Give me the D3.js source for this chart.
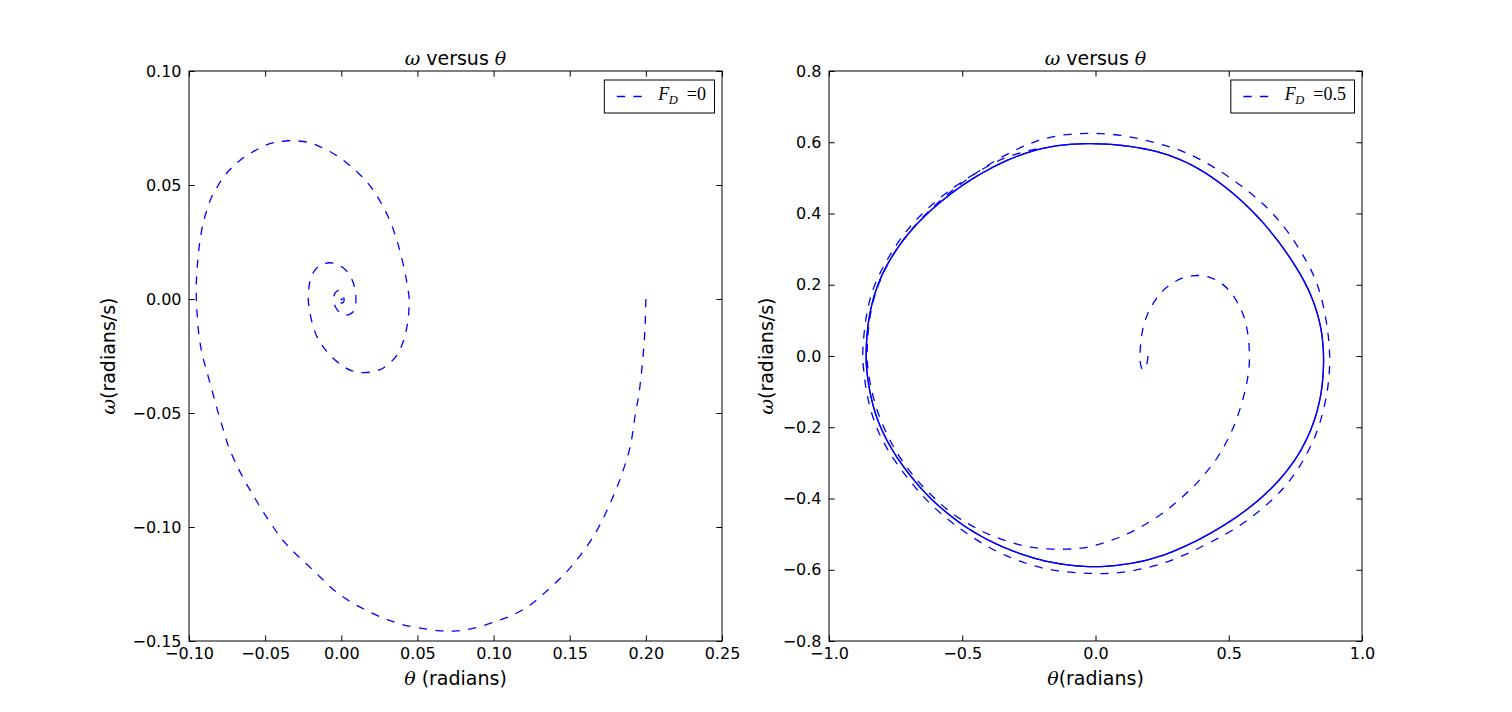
<!DOCTYPE html>
<html><head><meta charset="utf-8">
<script src="https://cdn.jsdelivr.net/npm/d3@7"></script>
<style>body{margin:0;background:#fff} svg{display:block}</style>
</head><body>
<svg id="c" width="1512" height="712"></svg>
<script>
// ---------- data ----------
const leftXTicks = [-0.10, -0.05, 0.00, 0.05, 0.10, 0.15, 0.20, 0.25];
const leftYTicks = [-0.15, -0.10, -0.05, 0.00, 0.05, 0.10];
const rightXTicks = [-1.0, -0.5, 0.0, 0.5, 1.0];
const rightYTicks = [-0.8, -0.6, -0.4, -0.2, 0.0, 0.2, 0.4, 0.6, 0.8];

const titleWord = "versus";
const leftLegendValue = "0";
const rightLegendValue = "0.5";

// F_D = 0 : damped spiral [theta, omega]
const leftSpiral = [
 [0.200,0.000],[0.1996,-0.010],[0.1985,-0.0224],[0.1955,-0.0414],[0.1932,-0.0501],[0.1897,-0.0648],
 [0.1844,-0.0765],[0.1794,-0.0852],[0.1725,-0.0955],[0.1655,-0.1042],[0.1563,-0.1130],[0.1471,-0.1203],
 [0.1356,-0.1276],[0.1241,-0.1342],[0.1126,-0.1386],[0.1011,-0.1415],[0.0872,-0.1444],[0.0757,-0.1456],
 [0.0665,-0.1456],[0.0550,-0.1447],[0.0412,-0.1430],[0.0297,-0.1405],[0.0181,-0.1371],[0.0066,-0.1330],
 [-0.0049,-0.1276],[-0.0141,-0.1218],[-0.0233,-0.1159],[-0.0325,-0.1101],[-0.0394,-0.1050],[-0.0463,-0.0984],
 [-0.0521,-0.0925],[-0.0579,-0.0860],[-0.0625,-0.0808],[-0.0682,-0.0735],[-0.0740,-0.0648],[-0.0774,-0.0575],
 [-0.0820,-0.0472],[-0.0855,-0.0385],[-0.0889,-0.0304],[-0.0915,-0.0238],[-0.0936,-0.0151],[-0.0947,-0.0063],
 [-0.0952,0.0000],[-0.0952,0.0069],[-0.0942,0.0171],[-0.0929,0.0251],[-0.0912,0.0317],[-0.0889,0.0376],
 [-0.0855,0.0442],[-0.0820,0.0485],[-0.0774,0.0534],[-0.0717,0.0577],[-0.0648,0.0617],[-0.0579,0.0646],
 [-0.0509,0.0671],[-0.0440,0.0686],[-0.0348,0.0694],[-0.0279,0.0693],[-0.0210,0.0686],[-0.0141,0.0668],
 [-0.0072,0.0646],[-0.0003,0.0617],[0.0066,0.0580],[0.0135,0.0537],[0.0193,0.0493],[0.0251,0.0434],
 [0.0297,0.0376],[0.0343,0.0303],[0.0377,0.0230],[0.0405,0.0156],[0.0428,0.0083],[0.0442,0.0025],
 [0.0446,0.0000],[0.0444,-0.0048],[0.0435,-0.0107],[0.0419,-0.0158],[0.0396,-0.0206],[0.0366,-0.0246],
 [0.0320,-0.0280],[0.0270,-0.0305],[0.0228,-0.0316],[0.0147,-0.0323],[0.0066,-0.0314],[-0.0014,-0.0282],
 [-0.0083,-0.0240],[-0.0125,-0.0205],[-0.0160,-0.0165],[-0.0185,-0.0120],[-0.0203,-0.0070],[-0.0213,-0.0030],
 [-0.0217,0.0000],[-0.0214,0.0040],[-0.0205,0.0080],[-0.0187,0.0113],[-0.0152,0.0142],[-0.0118,0.0154],
 [-0.0075,0.0159],[-0.0035,0.0154],[0.0010,0.0138],[0.0050,0.0110],[0.0078,0.0072],[0.0093,0.0030],
 [0.0096,0.0000],[0.0092,-0.0034],[0.0078,-0.0056],[0.0055,-0.0067],[0.0025,-0.0070],[-0.0005,-0.0062],
 [-0.0030,-0.0044],[-0.0047,-0.0020],[-0.0050,0.0005],[-0.0042,0.0025],[-0.0025,0.0036],[-0.0008,0.0034],
 [0.0008,0.0022],[0.0017,0.0005],[0.0017,-0.0010],[0.0008,-0.0017],[-0.0004,-0.0016],[-0.0012,-0.0007],
 [-0.0012,0.0004],[-0.0005,0.0009],[0.0003,0.0006],[0.0005,-0.0001],[0.0000,-0.0003],[-0.0002,0.0000]
];

// F_D = 0.5 : transient from the start to the ring
const rightTransient = [
 [0.197,0.000],[0.195,-0.015],[0.190,-0.030],[0.182,-0.040],[0.174,-0.038],[0.168,-0.022],[0.166,0.000],
 [0.171,0.054],[0.184,0.101],[0.211,0.143],[0.250,0.185],[0.296,0.209],[0.336,0.223],[0.382,0.2275],
 [0.428,0.223],[0.474,0.206],[0.513,0.176],[0.546,0.134],[0.566,0.092],[0.575,0.045],[0.579,0.000],
 [0.576,-0.039],[0.566,-0.086],[0.546,-0.142],[0.520,-0.198],[0.493,-0.240],[0.461,-0.283],[0.414,-0.329],
 [0.375,-0.362],[0.322,-0.399],[0.270,-0.432],[0.217,-0.460],[0.151,-0.488],[0.099,-0.507],[0.020,-0.528],
 [-0.046,-0.540],[-0.112,-0.543],[-0.178,-0.542],[-0.243,-0.538],[-0.309,-0.526],[-0.375,-0.509],
 [-0.428,-0.492],[-0.480,-0.470],[-0.535,-0.445],[-0.590,-0.410],[-0.645,-0.370],[-0.700,-0.322],
 [-0.748,-0.270],[-0.790,-0.210],[-0.822,-0.150],[-0.843,-0.090],[-0.855,-0.035],[-0.858,0.000],
 [-0.854,0.070],[-0.842,0.135],[-0.817,0.200],[-0.775,0.268],[-0.715,0.335],[-0.640,0.398],[-0.560,0.452],
 [-0.470,0.503],[-0.380,0.548],[-0.289,0.583]
];
// first large swing (outer dashed loop)
const rightOvershoot = [
 [-0.217,0.606],[-0.138,0.620],[-0.059,0.625],[0.020,0.625],[0.099,0.620],[0.178,0.608],[0.257,0.592],
 [0.336,0.574],[0.441,0.533],[0.546,0.480],[0.645,0.419],[0.724,0.349],[0.783,0.279],[0.836,0.204],
 [0.868,0.101],[0.882,0.000],[0.875,-0.077],[0.862,-0.133],[0.836,-0.208],[0.796,-0.273],[0.743,-0.339],
 [0.678,-0.395],[0.599,-0.446],[0.520,-0.488],[0.414,-0.530],[0.309,-0.568],[0.217,-0.591],[0.112,-0.608],
 [0.013,-0.612],[-0.086,-0.608],[-0.191,-0.599],[-0.283,-0.577],[-0.375,-0.549],[-0.467,-0.507],
 [-0.546,-0.465],[-0.625,-0.413],[-0.691,-0.357],[-0.757,-0.292],[-0.809,-0.226],[-0.842,-0.161],
 [-0.864,-0.086],[-0.872,-0.021],[-0.875,0.000],[-0.868,0.073],[-0.855,0.139],[-0.829,0.204],
 [-0.783,0.270],[-0.724,0.340],[-0.651,0.401],[-0.572,0.452],[-0.493,0.494],[-0.401,0.536],
 [-0.309,0.567],[-0.200,0.585]
];
// limit cycle (traversed many times, looks solid)
const rightCycle = [
 [-0.191,0.586],[-0.099,0.595],[0.000,0.597],[0.099,0.592],[0.204,0.580],[0.296,0.560],[0.388,0.527],
 [0.480,0.480],[0.559,0.429],[0.625,0.379],[0.691,0.318],[0.743,0.262],[0.796,0.195],[0.829,0.131],
 [0.849,0.073],[0.858,0.000],[0.853,-0.077],[0.838,-0.142],[0.811,-0.205],[0.772,-0.266],[0.719,-0.324],
 [0.651,-0.380],[0.572,-0.430],[0.493,-0.471],[0.401,-0.511],[0.309,-0.544],[0.217,-0.570],[0.112,-0.586],
 [0.007,-0.593],[-0.086,-0.589],[-0.191,-0.577],[-0.283,-0.556],[-0.375,-0.528],[-0.467,-0.491],
 [-0.546,-0.449],[-0.625,-0.397],[-0.691,-0.341],[-0.750,-0.281],[-0.796,-0.220],[-0.829,-0.159],
 [-0.849,-0.095],[-0.859,-0.039],[-0.862,0.000],[-0.857,0.075],[-0.843,0.139],[-0.816,0.206],
 [-0.772,0.272],[-0.713,0.336],[-0.638,0.397],[-0.559,0.447],[-0.480,0.490],[-0.388,0.530],
 [-0.296,0.562]
];
const cyclePasses = [0, 4.2, 8.3, 12.5];

// ---------- drawing ----------
const svg = d3.select("#c");
const BLUE = "#0000ff";
const DASH = "8.3,8.3";
const SANS = "DejaVu Sans";
const SERIF = "DejaVu Serif";

function panel(opt) {
  const x = d3.scaleLinear().domain(opt.xDomain).range([opt.left, opt.left + 533]);
  const y = d3.scaleLinear().domain(opt.yDomain).range([641, 71]);
  const g = svg.append("g");
  const T = 5.6;

  const styleAxis = (sel) => {
    sel.select(".domain").remove();
    sel.selectAll("line").attr("stroke", "#000").attr("stroke-width", 1);
    sel.selectAll("text").attr("font-family", SANS).attr("font-size", 16).attr("fill", "#000");
  };
  g.append("g").attr("transform", `translate(0,641)`)
    .call(d3.axisBottom(x).tickValues(opt.xTicks).tickFormat(d3.format(opt.xFmt)).tickSizeInner(-T).tickSizeOuter(0).tickPadding(7))
    .call(styleAxis);
  g.append("g").attr("transform", `translate(0,71)`)
    .call(d3.axisTop(x).tickValues(opt.xTicks).tickFormat("").tickSizeInner(-T).tickSizeOuter(0))
    .call(styleAxis);
  g.append("g").attr("transform", `translate(${opt.left},0)`)
    .call(d3.axisLeft(y).tickValues(opt.yTicks).tickFormat(d3.format(opt.yFmt)).tickSizeInner(-T).tickSizeOuter(0).tickPadding(7.5))
    .call(styleAxis);
  g.append("g").attr("transform", `translate(${opt.left + 533},0)`)
    .call(d3.axisRight(y).tickValues(opt.yTicks).tickFormat("").tickSizeInner(-T).tickSizeOuter(0))
    .call(styleAxis);

  const curves = g.append("g");
  opt.series.forEach(s => {
    const line = d3.line().x(d => x(d[0])).y(d => y(d[1])).curve(s.curve);
    curves.append("path").attr("d", line(s.data)).attr("fill", "none")
      .attr("stroke", BLUE).attr("stroke-width", 1.3).attr("stroke-dasharray", DASH)
      .attr("stroke-dashoffset", s.offset || 0);
  });

  // frame
  g.append("rect").attr("x", opt.left).attr("y", 71).attr("width", 533).attr("height", 570)
    .attr("fill", "none").attr("stroke", "#000").attr("stroke-width", 1);

  const cx = opt.left + 533 / 2;
  // title
  const t = g.append("text").attr("x", cx).attr("y", 64.5).attr("text-anchor", "middle")
    .attr("font-family", SANS).attr("font-size", 19).attr("fill", "#000");
  t.append("tspan").attr("font-family", SERIF).attr("font-style", "italic").text("ω");
  t.append("tspan").text(" " + titleWord + " ");
  t.append("tspan").attr("font-family", SERIF).attr("font-style", "italic").text("θ");
  // x label
  const xl = g.append("text").attr("x", cx).attr("y", 685).attr("text-anchor", "middle")
    .attr("font-family", SANS).attr("font-size", 19).attr("fill", "#000");
  xl.append("tspan").attr("font-family", SERIF).attr("font-style", "italic").text("θ");
  xl.append("tspan").text(opt.xLabel);
  // y label
  const yl = g.append("text").attr("transform", `translate(${opt.yLabelX},356) rotate(-90)`)
    .attr("text-anchor", "middle").attr("font-family", SANS).attr("font-size", 19).attr("fill", "#000");
  yl.append("tspan").attr("font-family", SERIF).attr("font-style", "italic").text("ω");
  yl.append("tspan").text("(radians/s)");

  // legend
  const lg = g.append("g");
  const box = lg.append("rect").attr("y", 80).attr("height", 33).attr("fill", "#fff")
    .attr("stroke", "#000").attr("stroke-width", 1);
  const lt = lg.append("text").attr("x", 0).attr("y", 100).attr("font-family", "Liberation Serif")
    .attr("font-size", 18).attr("fill", "#000");
  lt.append("tspan").attr("font-style", "italic").text("F");
  lt.append("tspan").attr("font-style", "italic").attr("font-size", 12.5).attr("dy", 4).attr("dx", -0.5).text("D");
  lt.append("tspan").attr("dy", -4).attr("dx", 9).text("=" + opt.legendValue);
  const bb = lt.node().getBBox();
  const tw = bb.x + bb.width;
  const boxW = 54 + tw + 8.5;
  const bx = opt.left + 533 - 7.5 - boxW;
  box.attr("x", bx).attr("width", boxW);
  lt.attr("x", bx + 54);
  lg.append("line").attr("x1", bx + 12.5).attr("x2", bx + 37.5).attr("y1", 96.5).attr("y2", 96.5)
    .attr("stroke", BLUE).attr("stroke-width", 1.3).attr("stroke-dasharray", DASH);
}

panel({
  left: 189, xDomain: [-0.10, 0.25], yDomain: [-0.15, 0.10],
  xTicks: leftXTicks, yTicks: leftYTicks, xFmt: ".2f", yFmt: ".2f",
  xLabel: " (radians)", yLabelX: 114.5, legendValue: leftLegendValue,
  series: [{data: leftSpiral, curve: d3.curveCatmullRom.alpha(0.5)}]
});

panel({
  left: 829, xDomain: [-1.0, 1.0], yDomain: [-0.8, 0.8],
  xTicks: rightXTicks, yTicks: rightYTicks, xFmt: ".1f", yFmt: ".1f",
  xLabel: "(radians)", yLabelX: 773, legendValue: rightLegendValue,
  series: [{data: rightTransient.concat(rightOvershoot, [rightCycle[0]]), curve: d3.curveBasis}]
    .concat(cyclePasses.map(o => ({data: rightCycle, offset: o, curve: d3.curveBasisClosed})))
});
</script>
</body></html>
